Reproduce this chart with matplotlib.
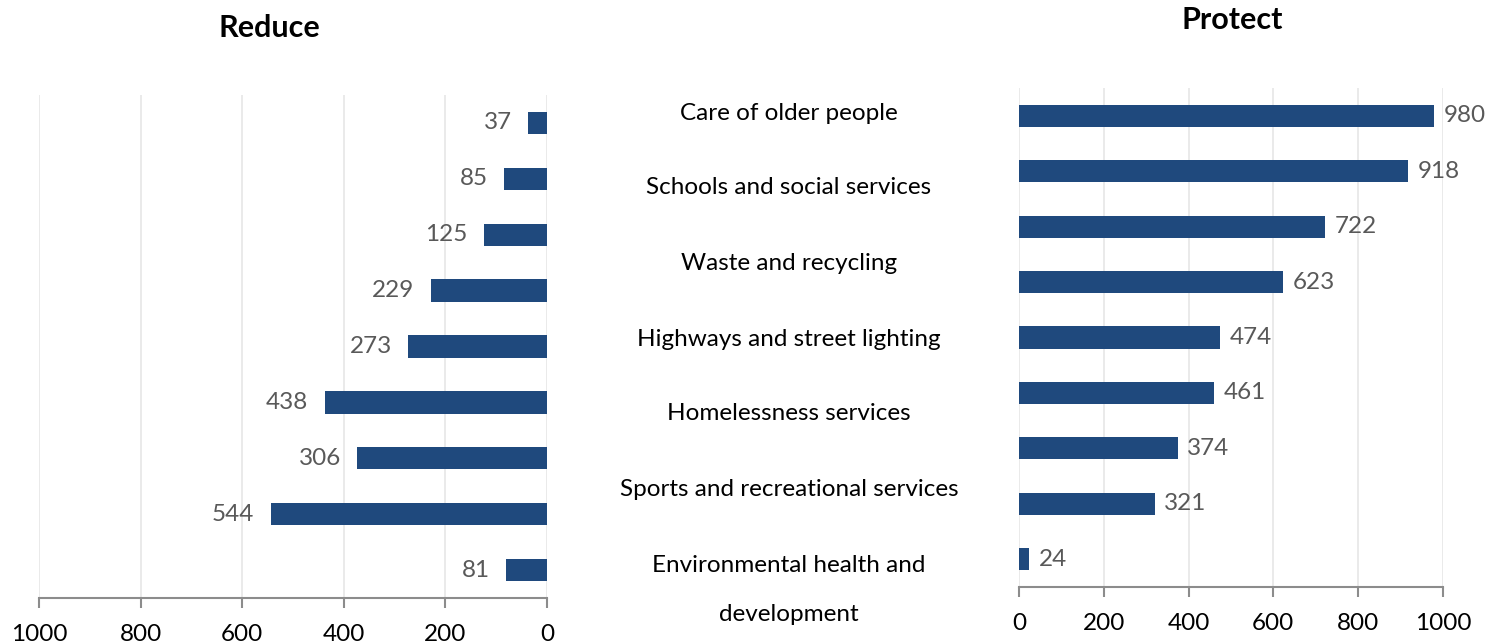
import matplotlib.pyplot as plt

plt.rcParams['font.family'] = ['Lato', 'DejaVu Sans']

# data
reduce_values = [37, 85, 125, 229, 273, 438, 374, 544, 81]
reduce_labels = ['37', '85', '125', '229', '273', '438', '306', '544', '81']
protect_values = [980, 918, 722, 623, 474, 461, 374, 321, 24]
categories = ['Care of older people', 'Schools and social services',
              'Waste and recycling', 'Highways and street lighting',
              'Homelessness services', 'Sports and recreational services',
              'Environmental health and\n\ndevelopment']
ticks = [0, 200, 400, 600, 800, 1000]

bar_color = '#1f497d'
grid_color = '#e6e6e6'
label_color = '#595959'

fig = plt.figure(figsize=(14.86, 6.44), dpi=100)
ax1 = fig.add_axes([0.02624, 0.0714, 0.3419, 0.781])
ax2 = fig.add_axes([0.6857, 0.0885, 0.2853, 0.7748])


def style(ax):
    ax.set_xlim(0, 1000)
    ax.set_ylim(len(reduce_values) - 0.5, -0.5)
    ax.set_xticks(ticks)
    ax.set_xticklabels([str(t) for t in ticks], fontsize=17.5)
    ax.set_yticks([])
    for s in ['top', 'left', 'right']:
        ax.spines[s].set_visible(False)
    ax.spines['bottom'].set_color('#8c8c8c')
    ax.spines['bottom'].set_linewidth(1.5)
    ax.tick_params(axis='x', direction='out', length=7, width=1.5,
                   color='#8c8c8c', pad=12)
    ax.grid(axis='x', color=grid_color, linewidth=1.2)
    ax.set_axisbelow(True)


# Reduce
pos = range(len(reduce_values))
ax1.barh(pos, reduce_values, height=0.4, color=bar_color)
style(ax1)
ax1.invert_xaxis()
for i, (v, t) in enumerate(zip(reduce_values, reduce_labels)):
    ax1.text(v + 32, i, t, ha='right', va='center', fontsize=17.5, color=label_color)

# Protect
ax2.barh(pos, protect_values, height=0.4, color=bar_color)
style(ax2)
for i, v in enumerate(protect_values):
    ax2.text(v + 22, i, str(v), ha='left', va='center', fontsize=17.5, color=label_color)

fig.text(269 / 1486, 1 - 28 / 644, 'Reduce', ha='center', va='center',
         fontsize=22, fontweight='bold')
fig.text(1232 / 1486, 1 - 20 / 644, 'Protect', ha='center', va='center',
         fontsize=22, fontweight='bold')

# category labels in the middle
label_y = [113, 188, 264, 340, 414, 490, 555]
for c, y in zip(categories, label_y):
    fig.text(789 / 1486, 1 - y / 644, c, ha='center', va='top' if '\n' in c else 'center',
             fontsize=17.5, linespacing=1.2)

plt.savefig('out.png', dpi=100)
